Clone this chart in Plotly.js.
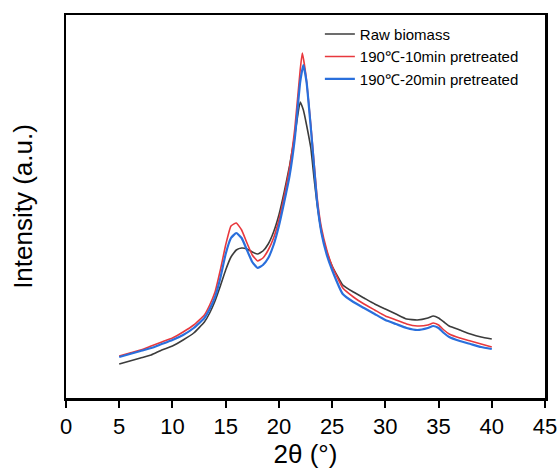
<!DOCTYPE html>
<html>
<head>
<meta charset="utf-8">
<script src="https://cdn.plot.ly/plotly-3.0.1.min.js"></script>
<style>html,body{margin:0;padding:0;background:#fff;}#chart{width:557px;height:475px;}</style>
</head>
<body>
<div id="chart"></div>
<script>
const seriesNames = ["Raw biomass", "190\u2103-10min pretreated", "190\u2103-20min pretreated"];

const xRaw = [5,6,7,8,9,10,11,12,13,13.5,14,14.5,15,15.5,16,16.5,17,17.5,18,18.5,19,19.5,20,20.5,21,21.5,22,22.3,22.6,23,23.3,23.6,24,24.5,25,26,27,28,29,30,31,32,33,34,34.5,35,35.5,36,37,38,39,40];
const yRaw = [34,37,40,43,48,52,58,65,76,85,97,112,128,141,148,150,149,146,144,147,154,166,183,206,232,263,296,288,273,250,220,193,166,146,132,113,106,100,94,89,84,79,78,80,82,80,76,72,68,64,61,59];

const x10 = [5,6,7,8,9,10,11,12,13,13.5,14,14.5,15,15.5,16,16.5,17,17.5,18,18.5,19,19.5,20,20.5,21,21.5,22,22.2,22.5,23,23.3,23.6,24,24.5,25,26,27,28,29,30,31,32,33,34,34.5,35,35.5,36,37,38,39,40];
const y10 = [42,45,48,52,56,60,66,73,83,93,106,128,153,172,175,168,155,143,137,140,148,160,178,202,230,270,328,345,326,273,236,200,170,148,132,110,101,94,88,82,78,74,72,73,75,73,68,64,60,57,54,51];

const x20 = [5,6,7,8,9,10,11,12,13,13.5,14,14.5,15,15.5,16,16.5,17,17.5,18,18.5,19,19.5,20,20.5,21,21.5,22,22.3,22.6,23,23.3,23.6,24,24.5,25,26,27,28,29,30,31,32,33,34,34.5,35,35.5,36,37,38,39,40];
const y20 = [41,44,47,50,54,58,63,70,80,89,101,120,144,160,165,160,148,136,130,133,140,153,172,196,222,260,316,333,316,270,232,195,165,143,128,104,96,90,84,78,74,70,68,70,72,70,65,61,57,54,51,49];

const xTicks = [0,5,10,15,20,25,30,35,40,45];

const traces = [
  {x: xRaw, y: yRaw, name: seriesNames[0], type: 'scatter', mode: 'lines', line: {color: '#3c3c3c', width: 1.6, shape: 'spline', smoothing: 0.4}},
  {x: x10, y: y10, name: seriesNames[1], type: 'scatter', mode: 'lines', line: {color: '#e8383d', width: 1.6, shape: 'spline', smoothing: 0.4}},
  {x: x20, y: y20, name: seriesNames[2], type: 'scatter', mode: 'lines', line: {color: '#2a6fdc', width: 2.2, shape: 'spline', smoothing: 0.4}}
];

const layout = {
  width: 557, height: 475,
  margin: {l: 66, r: 12, t: 15, b: 77},
  paper_bgcolor: '#fff', plot_bgcolor: '#fff',
  font: {family: 'Liberation Sans, Arial, sans-serif', color: '#000'},
  showlegend: true,
  legend: {x: 0.53, y: 0.993, xanchor: 'left', yanchor: 'top', bgcolor: 'rgba(0,0,0,0)', borderwidth: 0,
           font: {size: 15, color: '#000'}, tracegroupgap: 0},
  xaxis: {
    range: [0, 45], tickvals: xTicks, ticktext: xTicks.map(String),
    ticks: 'outside', ticklen: 7, tickwidth: 2, tickcolor: '#000',
    ticklabeloverflow: 'allow',
    showline: true, linewidth: 2.5, linecolor: '#000', mirror: true,
    showgrid: false, zeroline: false,
    tickfont: {size: 22, color: '#000'},
    title: {text: '2\u03b8 (\u00b0)', font: {size: 26, color: '#000'}, standoff: 6}
  },
  yaxis: {
    range: [0, 383], showticklabels: false, ticks: '',
    showline: true, linewidth: 2.5, linecolor: '#000', mirror: true,
    showgrid: false, zeroline: false,
    title: {text: 'Intensity (a.u.)', font: {size: 26, color: '#000'}, standoff: 24}
  }
};

Plotly.newPlot('chart', traces, layout, {displayModeBar: false, staticPlot: true});
</script>
</body>
</html>
